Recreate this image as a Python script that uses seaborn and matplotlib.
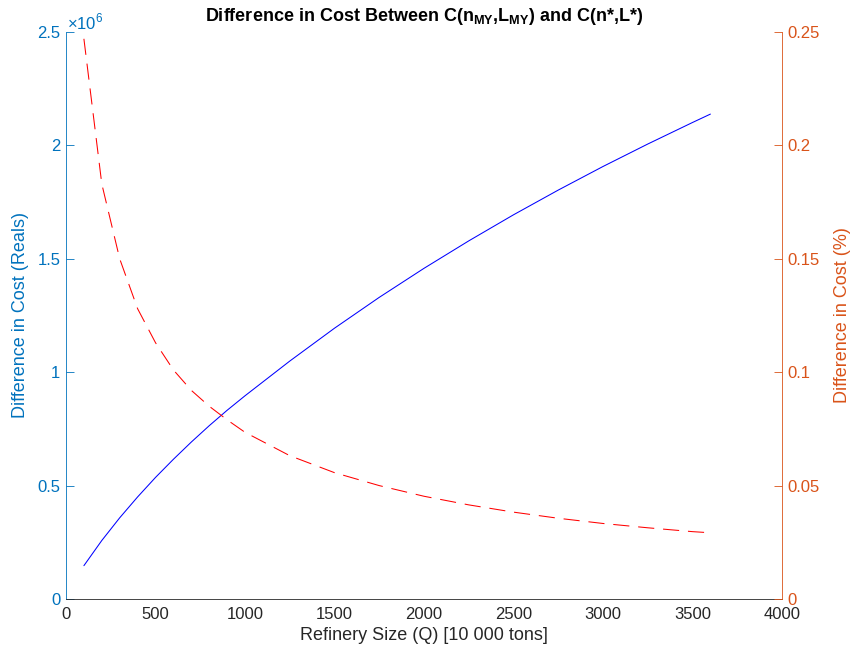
import pandas as pd
import matplotlib.pyplot as plt
import seaborn as sns
from matplotlib.ticker import FuncFormatter, MultipleLocator

# Values
refinery_size = [100, 200, 300, 400, 500, 600, 700, 800, 900, 1000, 1250, 1500,
                 1750, 2000, 2250, 2500, 2750, 3000, 3250, 3500, 3600]
cost_reals = [0.147e6, 0.258e6, 0.358e6, 0.450e6, 0.536e6, 0.616e6, 0.692e6,
              0.764e6, 0.832e6, 0.896e6, 1.049e6, 1.194e6, 1.330e6, 1.458e6,
              1.579e6, 1.694e6, 1.803e6, 1.907e6, 2.006e6, 2.101e6, 2.138e6]
cost_pct = [0.247, 0.183, 0.150, 0.128, 0.113, 0.101, 0.092, 0.085, 0.079,
            0.0735, 0.0632, 0.0557, 0.0500, 0.0453, 0.0415, 0.0383, 0.0356,
            0.0333, 0.0314, 0.0297, 0.0292]

df = pd.DataFrame({"Q": refinery_size, "reals": cost_reals, "pct": cost_pct})

blue_ax = "#0072BD"
orange_ax = "#D95319"
dark = "#262626"

sns.set_style("white")
plt.rcParams["font.family"] = ["Liberation Sans", "DejaVu Sans"]
plt.rcParams["mathtext.fontset"] = "custom"
plt.rcParams["mathtext.rm"] = "Liberation Sans"
plt.rcParams["mathtext.bf"] = "Liberation Sans:bold"

fig = plt.figure(figsize=(8.52, 6.54), dpi=100)
ax = fig.add_axes([66 / 852, 1 - 599 / 654, (782 - 66) / 852, (599 - 32) / 654])
ax2 = ax.twinx()

sns.lineplot(data=df, x="Q", y="reals", ax=ax, color=(0, 0, 1), linewidth=0.75)
sns.lineplot(data=df, x="Q", y="pct", ax=ax2, color=(1, 0, 0), linewidth=0.75,
             linestyle=(0, (15.5, 8.5)))

ax.set_xlim(0, 4000)
ax.set_ylim(0, 2.5e6)
ax2.set_ylim(0, 0.25)
ax.xaxis.set_major_locator(MultipleLocator(500))
ax.yaxis.set_major_locator(MultipleLocator(0.5e6))
ax2.yaxis.set_major_locator(MultipleLocator(0.05))
ax.yaxis.set_major_formatter(FuncFormatter(lambda v, p: f"{v / 1e6:g}"))
ax2.yaxis.set_major_formatter(FuncFormatter(lambda v, p: f"{v:g}"))

# spines
for a in (ax, ax2):
    a.spines["top"].set_visible(False)
ax.spines["right"].set_visible(False)
ax2.spines["left"].set_visible(False)
ax2.spines["bottom"].set_visible(False)
ax.spines["left"].set_color(blue_ax)
ax2.spines["right"].set_color(orange_ax)
ax.spines["bottom"].set_color(dark)
for s in ("left", "bottom"):
    ax.spines[s].set_linewidth(0.6)
ax2.spines["right"].set_linewidth(0.6)

ax.tick_params(axis="x", direction="in", length=6, width=0.6, colors=dark,
               labelsize=12, pad=6)
ax.tick_params(axis="y", direction="in", length=6, width=0.6, colors=blue_ax,
               labelsize=12, pad=4)
ax2.tick_params(axis="y", direction="in", length=6, width=0.6, colors=orange_ax,
                labelsize=12, pad=4)

ax.set_xlabel("Refinery Size (Q) [10 000 tons]", fontsize=13, color=dark, labelpad=3)
ax.set_ylabel("Difference in Cost (Reals)", fontsize=13, color=blue_ax, labelpad=6)
ax2.set_ylabel("Difference in Cost (%)", fontsize=13, color=orange_ax, labelpad=10)

ax.text(0.002, 1.0, r"$\times10^{6}$", transform=ax.transAxes, ha="left",
        va="bottom", fontsize=12, color=blue_ax)

ax.set_title(r"Difference in Cost Between C(n$_\mathbf{MY}$,L$_\mathbf{MY}$) and C(n*,L*)",
             fontsize=13, fontweight="bold", color="black", pad=8)

plt.savefig("out.png", dpi=100)
